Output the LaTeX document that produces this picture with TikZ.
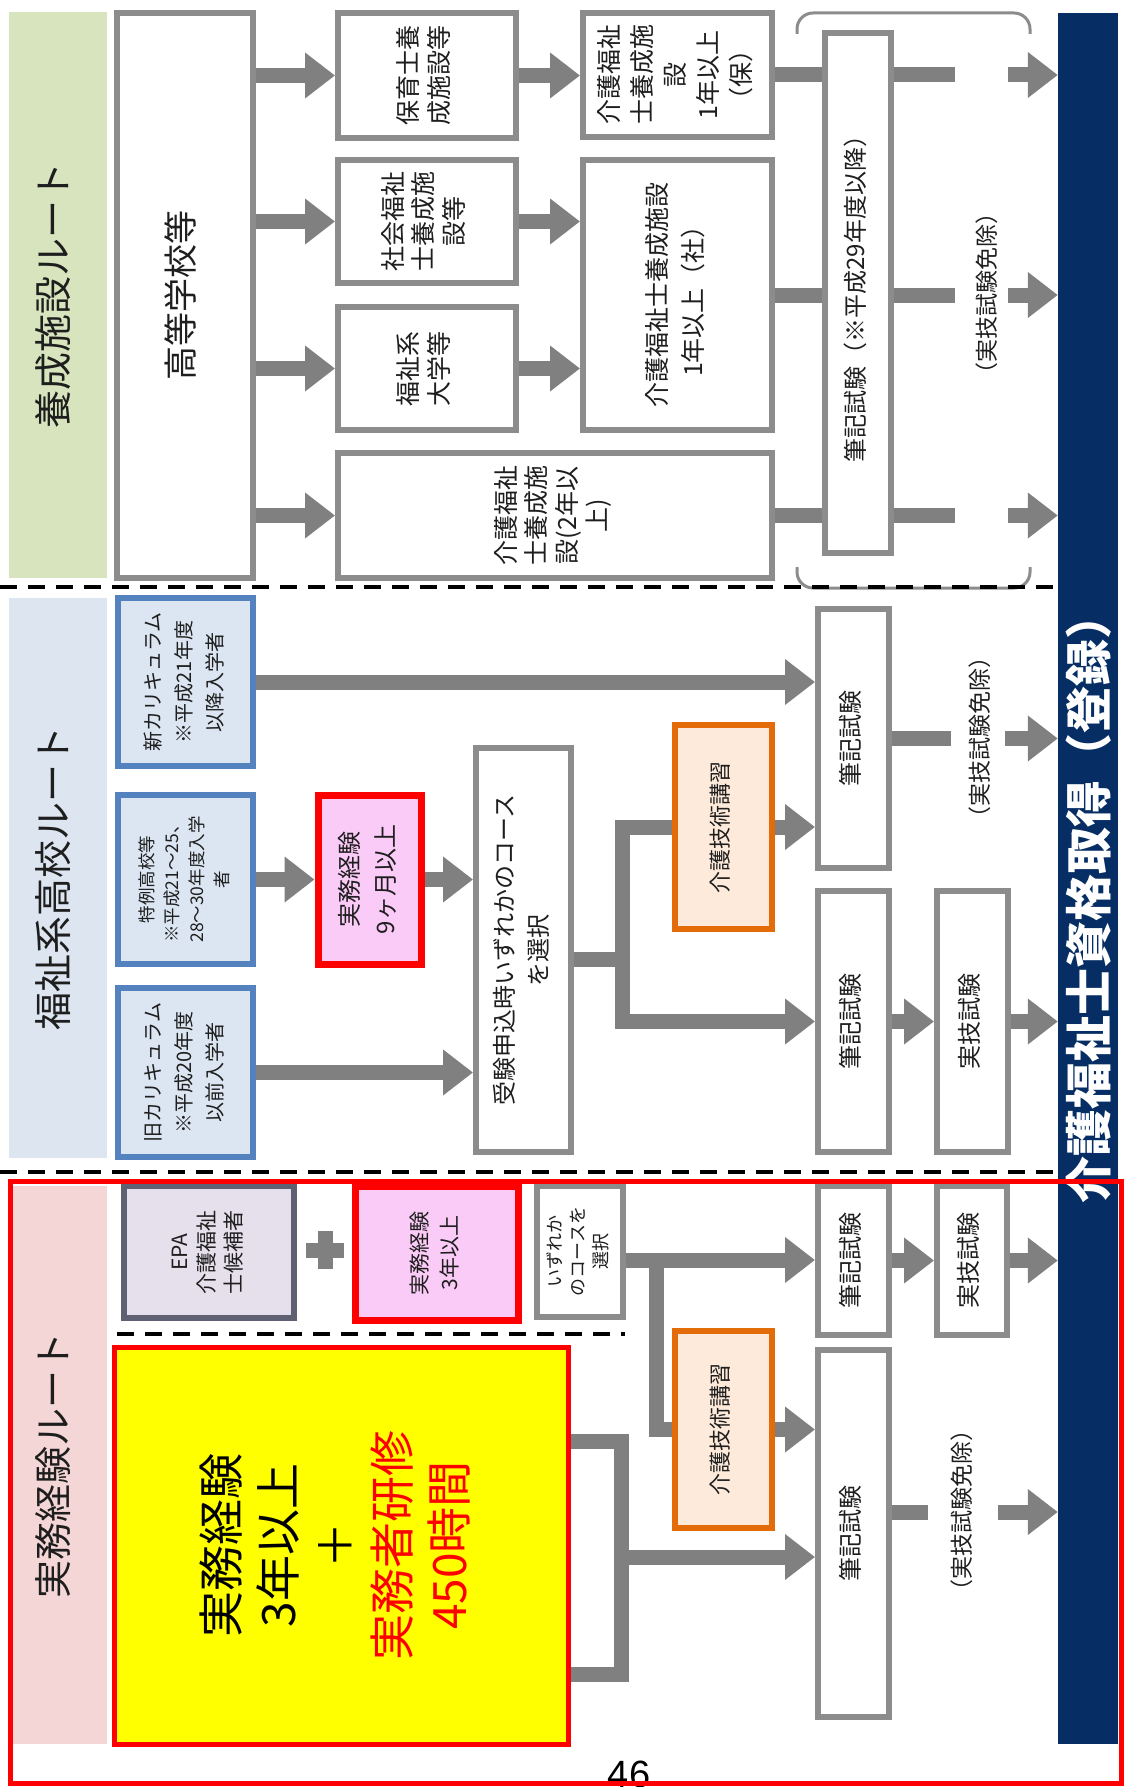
\documentclass[tikz,border=0pt]{standalone}
\usepackage{fontspec}
\setmainfont{Noto Sans CJK JP}
\newfontfamily\latinfont{Liberation Sans}
\usepackage{graphicx}
\usetikzlibrary{arrows.meta}
\definecolor{agray}{RGB}{128,128,128}
\definecolor{bgray}{RGB}{140,140,140}
\definecolor{greenband}{RGB}{215,228,189}
\definecolor{blueband}{RGB}{220,229,240}
\definecolor{pinkband}{RGB}{245,214,214}
\definecolor{bluebd}{RGB}{84,130,190}
\definecolor{bluefill}{RGB}{220,230,242}
\definecolor{pinkfill}{RGB}{251,203,247}
\definecolor{epafill}{RGB}{230,224,236}
\definecolor{epabd}{RGB}{96,96,115}
\definecolor{orangebd}{RGB}{227,108,9}
\definecolor{orangefill}{RGB}{253,234,218}
\definecolor{navyblue}{RGB}{6,46,101}
\definecolor{txt}{RGB}{30,30,30}
\definecolor{ybright}{RGB}{255,255,0}
\newcommand\fsz[2]{\fontsize{#1pt}{#2pt}\selectfont}
\newcommand\rtx[1]{\rotatebox{90}{\begin{tabular}{@{}c@{}}#1\end{tabular}}}
\begin{document}
\begin{tikzpicture}[x=1pt,y=-1pt,
  wh/.style 2 args={minimum width=#1pt, minimum height=#2pt},
  band/.style={inner sep=0pt, text=txt, font=\fsz{38}{44}},
  gbox/.style={draw=bgray, line width=6pt, fill=white, inner sep=0pt, text=txt, font=\fsz{24}{28}},
  bbox/.style={draw=bluebd, line width=6pt, fill=bluefill, inner sep=0pt, text=txt},
  rbox/.style={draw=red, line width=7pt, fill=pinkfill, inner sep=0pt, text=txt},
  ebox/.style={draw=epabd, line width=6pt, fill=epafill, inner sep=0pt, text=txt},
  obox/.style={draw=orangebd, line width=6pt, fill=orangefill, inner sep=0pt, text=txt, font=\fsz{22}{26}},
  ybox/.style={draw=red, line width=5pt, fill=ybright, inner sep=0pt, text=black},
  garrow/.style={draw=agray, line width=15pt, -{Triangle[width=44pt,length=30pt]}},
  gline/.style={draw=agray, line width=15pt},
  dashsep/.style={draw=black, line width=3.5pt, dash pattern=on 17pt off 11pt},
  menjo/.style={inner sep=0pt, text=txt, font=\fsz{23}{27}},
]
\useasboundingbox (0,0) rectangle (1125,1787);
\fill[white] (0,0) rectangle (1125,1787);

% ---------------- top section ----------------
\node[band, fill=greenband, wh={98}{566}] (bandA) at (58,295) {\rtx{養成施設ルート}};
\node[gbox, wh={136}{565}, font=\fsz{34}{40}] (koto) at (185,295.5) {\rtx{高等学校等}};
\node[gbox, wh={178}{125}, font=\fsz{25}{30}] (hoiku) at (427,75.5) {\rtx{保育士養\\成施設等}};
\node[gbox, wh={178}{123}, font=\fsz{25}{30}] (shakai) at (427,221.5) {\rtx{社会福祉\\士養成施\\設等}};
\node[gbox, wh={178}{123}, font=\fsz{25}{30}] (daigaku) at (427,368.5) {\rtx{福祉系\\大学等}};
\node[gbox, wh={434}{125}, font=\fsz{25}{30}] (kaigoni) at (555,515.5) {\rtx{介護福祉\\士養成施\\設(2年以\\上)}};
\node[gbox, wh={189}{124}, font=\fsz{25}{33}] (kaigoho) at (677.5,75) {\rtx{介護福祉\\士養成施\\設\\1年以上\\（保）}};
\node[gbox, wh={189}{270}, font=\fsz{25}{36}] (kaigosha) at (677.5,295) {\rtx{介護福祉士養成施設\\1年以上（社）}};
\node[gbox, wh={66}{520}, font=\fsz{24}{28}] (hikkiA) at (858,293) {\rtx{筆記試験（※平成29年度以降）}};
\node[fill=navyblue, inner sep=0pt, wh={60}{1731}] (navy) at (1088,878.5) {};
\node[inner sep=0pt, text=white, font=\fsz{47}{52}\bfseries] (title) at (1089,898) {\rotatebox{90}{介護福祉士資格取得（登録）}};

\draw[bgray, line width=3pt, rounded corners=16pt] (797,34) -- (797,13) -- (1030,13) -- (1030,34);
\draw[bgray, line width=3pt, rounded corners=16pt] (797,567) -- (797,588) -- (1030,588) -- (1030,567);
\node[menjo] (menA) at (987,293) {\rotatebox{90}{（実技試験免除）}};

\draw[garrow] (koto.east |- hoiku.west) -- (hoiku.west);
\draw[garrow] (koto.east |- shakai.west) -- (shakai.west);
\draw[garrow] (koto.east |- daigaku.west) -- (daigaku.west);
\draw[garrow] (koto.east |- kaigoni.west) -- (kaigoni.west);
\draw[garrow] (hoiku.east) -- (kaigoho.west |- hoiku.east);
\draw[garrow] (shakai.east) -- (kaigosha.west |- shakai.east);
\draw[garrow] (daigaku.east) -- (kaigosha.west |- daigaku.east);
\draw[gline] (kaigoho.east) -- (hikkiA.west |- kaigoho.east);
\draw[gline] (kaigosha.east) -- (hikkiA.west |- kaigosha.east);
\draw[gline] (kaigoni.east) -- (hikkiA.west |- kaigoni.east);
\coordinate (ta1) at (955,75);    \coordinate (tb1) at (1008,75);
\coordinate (ta2) at (955,295);   \coordinate (tb2) at (1008,295);
\coordinate (ta3) at (955,515.5); \coordinate (tb3) at (1008,515.5);
\draw[gline] (hikkiA.east |- ta1) -- (ta1);
\draw[gline] (hikkiA.east |- ta2) -- (ta2);
\draw[gline] (hikkiA.east |- ta3) -- (ta3);
\draw[garrow] (tb1) -- (navy.west |- tb1);
\draw[garrow] (tb2) -- (navy.west |- tb2);
\draw[garrow] (tb3) -- (navy.west |- tb3);

\draw[dashsep] (0,587) -- (1055,587);

% ---------------- middle section ----------------
\node[band, fill=blueband, wh={98}{560}] (bandB) at (58,878) {\rtx{福祉系高校ルート}};
\node[bbox, wh={135}{168}, font=\fsz{20}{31}] (shinkari) at (185.5,682) {\rtx{新カリキュラム\\※平成21年度\\以降入学者}};
\node[bbox, wh={135}{169}, font=\fsz{17.5}{25}] (tokurei) at (185.5,879.5) {\rtx{特例高校等\\※平成21～25、\\28～30年度入学\\者}};
\node[bbox, wh={135}{169}, font=\fsz{20}{31}] (kyukari) at (185.5,1072.5) {\rtx{旧カリキュラム\\※平成20年度\\以前入学者}};
\node[rbox, wh={103}{169}, font=\fsz{24}{36}] (jitsumuA) at (369.5,879.5) {\rtx{実務経験\\9ヶ月以上}};
\node[gbox, wh={95}{404}, font=\fsz{24}{34}] (juken) at (523.5,950) {\rtx{受験申込時いずれかのコース\\を選択}};
\node[obox, wh={97}{204}] (kogiA) at (723.5,827) {\rtx{介護技術講習}};
\node[gbox, wh={71}{259}] (hikkiB) at (853.5,738.5) {\rtx{筆記試験}};
\node[gbox, wh={71}{261}] (hikkiC) at (853.5,1021.5) {\rtx{筆記試験}};
\node[gbox, wh={71}{261}] (jitsugiA) at (972.5,1021.5) {\rtx{実技試験}};
\node[menjo] (menB) at (980,737) {\rotatebox{90}{（実技試験免除）}};

\draw[garrow] (shinkari.east) -- (hikkiB.west |- shinkari.east);
\draw[garrow] (tokurei.east) -- (jitsumuA.west);
\draw[garrow] (jitsumuA.east) -- (juken.west |- jitsumuA.east);
\draw[garrow] (kyukari.east) -- (juken.west |- kyukari.east);
\coordinate (mj) at (622,959);
\coordinate (mjt) at (622,827);
\coordinate (mjb) at (622,1021.5);
\draw[gline] (juken.east |- mj) -- (mj);
\draw[garrow] (kogiA.west) -- (mjt) -- (mjb) -- (hikkiC.west);
\draw[garrow] (kogiA.east) -- (hikkiB.west |- kogiA.east);
\coordinate (mx1) at (951,738.5);
\coordinate (mx2) at (1005,738.5);
\draw[gline] (hikkiB.east) -- (mx1);
\draw[garrow] (mx2) -- (navy.west |- mx2);
\draw[garrow] (hikkiC.east) -- (jitsugiA.west);
\draw[garrow] (jitsugiA.east) -- (navy.west |- jitsugiA.east);

\draw[dashsep] (0,1172) -- (1055,1172);

% ---------------- bottom section ----------------
\node[band, fill=pinkband, wh={98}{558}] (bandC) at (58,1465) {\rtx{実務経験ルート}};
\node[ebox, wh={170}{132}, font=\fsz{21}{27}] (epa) at (209,1252) {\rtx{EPA\\介護福祉\\士候補者}};
\draw[agray, line width=15pt] (306,1250) -- (344,1250);
\draw[agray, line width=15pt] (325,1231) -- (325,1269);
\node[rbox, wh={163}{134}, font=\fsz{21}{30}] (jitsumuB) at (436.5,1253) {\rtx{実務経験\\3年以上}};
\node[gbox, wh={86}{131}, font=\fsz{18}{23}] (izure) at (580,1251.5) {\rtx{いずれか\\のコースを\\選択}};
\draw[dashsep] (117,1334) -- (625,1334);
\node[ybox, wh={454}{397}, font=\fsz{46}{57}] (yellowbox) at (341,1545.5) {\rtx{実務経験\\3年以上\\＋\\\textcolor{red}{実務者研修}\\\textcolor{red}{450時間}}};
\node[obox, wh={97}{197}] (kogiB) at (723.5,1429.5) {\rtx{介護技術講習}};
\node[gbox, wh={71}{149}] (hikkiD) at (853.5,1260.5) {\rtx{筆記試験}};
\node[gbox, wh={70}{149}] (jitsugiB) at (972,1260.5) {\rtx{実技試験}};
\node[gbox, wh={71}{367}] (hikkiE) at (853.5,1533.5) {\rtx{筆記試験}};
\node[menjo] (menC) at (962,1510) {\rotatebox{90}{（実技試験免除）}};

\coordinate (bj) at (656,1260);
\coordinate (bjb) at (656,1429.5);
\draw[garrow] (izure.east |- bj) -- (hikkiD.west |- bj);
\draw[gline] (bj) -- (bjb) -- (kogiB.west);
\draw[garrow] (kogiB.east) -- (hikkiE.west |- kogiB.east);
\draw[garrow] (hikkiD.east) -- (jitsugiB.west);
\draw[garrow] (jitsugiB.east) -- (navy.west |- jitsugiB.east);
\coordinate (yb1) at (621,1441);
\coordinate (yb2) at (621,1674);
\coordinate (yb3) at (621,1557);
\draw[gline] (yellowbox.east |- yb1) -- (yb1) -- (yb2) -- (yellowbox.east |- yb2);
\draw[garrow] (yb3) -- (hikkiE.west |- yb3);
\coordinate (bx1) at (928,1512);
\coordinate (bx2) at (998,1512);
\draw[gline] (hikkiE.east |- bx1) -- (bx1);
\draw[garrow] (bx2) -- (navy.west |- bx2);

\node[inner sep=0pt, anchor=north, font=\latinfont\fsz{38}{44}] (pnum) at (629,1761) {46};
\draw[red, line width=5pt] (10,1181) rectangle (1121,1783);
\end{tikzpicture}
\end{document}
